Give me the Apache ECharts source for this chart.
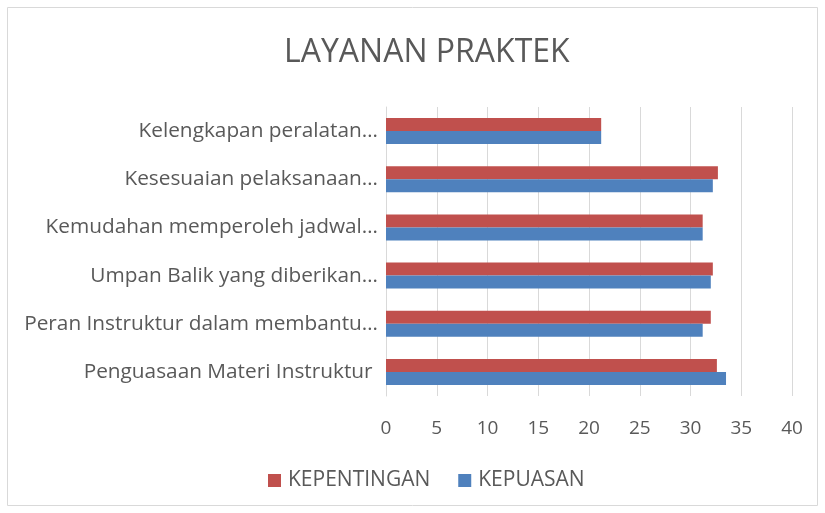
<!DOCTYPE html>
<html><head><meta charset="utf-8">
<script src="https://cdn.jsdelivr.net/npm/echarts@6/dist/echarts.min.js"></script>
<style>html,body{margin:0;padding:0;background:#fff}#c{width:825px;height:513px}</style>
</head><body><div id="c"></div>
<script>
const categories = ["Penguasaan Materi Instruktur ", "Peran Instruktur dalam membantu…", "Umpan Balik yang diberikan…", "Kemudahan memperoleh jadwal…", "Kesesuaian pelaksanaan…", "Kelengkapan peralatan…"];
const kepuasan = [33.5, 31.2, 32.0, 31.2, 32.2, 21.2];
const kepentingan = [32.6, 32.0, 32.2, 31.2, 32.7, 21.2];
const xTicks = [0, 40, 5];
const font = "'Open Sans', 'Liberation Sans', sans-serif";
const chart = echarts.init(document.getElementById('c'));
chart.setOption({
  animation: false,
  graphic: [{type: 'rect', shape: {x: 7.5, y: 7.5, width: 810, height: 498}, style: {fill: 'none', stroke: '#d9d9d9', lineWidth: 1}}],
  title: {text: 'LAYANAN PRAKTEK', left: 279, top: 32, textStyle: {fontFamily: font, fontSize: 32, fontWeight: 'normal', color: '#595959'}},
  legend: {data: ['KEPENTINGAN', 'KEPUASAN'], bottom: 17, left: 263, itemWidth: 13, itemHeight: 13, itemGap: 28, icon: 'rect',
    textStyle: {fontFamily: font, fontSize: 21, color: '#595959', padding: [0, 0, 0, 2]}},
  grid: {left: 386, right: 33, top: 107, bottom: 117, containLabel: false},
  xAxis: {type: 'value', min: xTicks[0], max: xTicks[1], interval: xTicks[2],
    axisLine: {show: false}, axisTick: {show: false},
    splitLine: {lineStyle: {color: '#d9d9d9', width: 1}},
    axisLabel: {fontFamily: font, fontSize: 19, color: '#595959', margin: 23}},
  yAxis: {type: 'category', data: categories,
    axisLine: {show: true, lineStyle: {color: '#d9d9d9'}}, axisTick: {show: false},
    axisLabel: {fontFamily: font, fontSize: 20.8, color: '#595959', margin: 8}},
  series: [
    {name: 'KEPENTINGAN', type: 'bar', data: kepentingan, barWidth: 13, barGap: '0%', barCategoryGap: '46%', itemStyle: {color: '#c0504d'}},
    {name: 'KEPUASAN', type: 'bar', data: kepuasan, barWidth: 13, barGap: '0%', itemStyle: {color: '#4f81bd'}}
  ]
});
</script></body></html>
